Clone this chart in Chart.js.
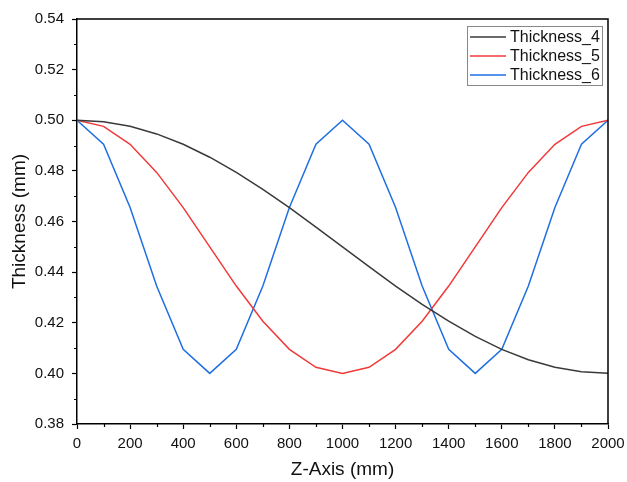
<!DOCTYPE html>
<html><head><meta charset="utf-8">
<script src="https://cdn.jsdelivr.net/npm/chart.js@4"></script>
<style>html,body{margin:0;padding:0;background:#fff}#wrap{width:627px;height:482px}</style>
</head><body><div id="wrap"><canvas id="c" width="627" height="482"></canvas></div>
<script>
const zAxis = [0,100,200,300,400,500,600,700,800,900,1000,1100,1200,1300,1400,1500,1600,1700,1800,1900,2000];
const thickness4 = [0.5,0.4994,0.4976,0.4946,0.4905,0.4854,0.4794,0.4727,0.4655,0.4578,0.45,0.4422,0.4345,0.4273,0.4206,0.4146,0.4095,0.4054,0.4024,0.4006,0.4];
const thickness5 = [0.5,0.4976,0.4905,0.4794,0.4655,0.45,0.4345,0.4206,0.4095,0.4024,0.4,0.4024,0.4095,0.4206,0.4345,0.45,0.4655,0.4794,0.4905,0.4976,0.5];
const thickness6 = [0.5,0.4905,0.4655,0.4345,0.4095,0.4,0.4095,0.4345,0.4655,0.4905,0.5,0.4905,0.4655,0.4345,0.4095,0.4,0.4095,0.4345,0.4655,0.4905,0.5];
const seriesNames = ['Thickness_4','Thickness_5','Thickness_6'];
const colors = ['#3a3a3a','#f03a3a','#1f6fe3'];
const xMinorTicks = [100,300,500,700,900,1100,1300,1500,1700,1900];
const yMinorTicks = [0.39,0.41,0.43,0.45,0.47,0.49,0.51,0.53];

const font = 'Liberation Sans, Arial, sans-serif';
const mk = (arr) => arr.map((v,i)=>({x:zAxis[i], y:v}));

const framePlugin = {
  id:'frame',
  afterDraw(chart){
    const {ctx, chartArea:a, scales:{x,y}} = chart;
    ctx.save();
    ctx.strokeStyle='#000'; ctx.lineWidth=1.5;
    ctx.beginPath();
    ctx.moveTo(a.left,a.top); ctx.lineTo(a.right,a.top); ctx.lineTo(a.right,a.bottom);
    ctx.stroke();
    ctx.lineWidth=1.2;
    ctx.beginPath();
    xMinorTicks.forEach(v=>{const px=Math.round(x.getPixelForValue(v))+0.5; ctx.moveTo(px,a.bottom); ctx.lineTo(px,a.bottom+3);});
    yMinorTicks.forEach(v=>{const py=Math.round(y.getPixelForValue(v))+0.5; ctx.moveTo(a.left,py); ctx.lineTo(a.left-3,py);});
    ctx.stroke();
    // legend
    const bx=467, by=26, bw=135, bh=59;
    ctx.fillStyle='#fff'; ctx.fillRect(bx,by,bw,bh);
    ctx.strokeStyle='#888'; ctx.lineWidth=1;
    ctx.strokeRect(bx+0.5,by+0.5,bw,bh);
    ctx.font='16px '+font; ctx.textBaseline='middle'; ctx.fillStyle='#111';
    chart.data.datasets.forEach((ds,i)=>{
      const cy=by+11+i*19;
      ctx.strokeStyle=ds.borderColor; ctx.lineWidth=1.5;
      ctx.beginPath(); ctx.moveTo(bx+3,cy); ctx.lineTo(bx+39,cy); ctx.stroke();
      ctx.fillText(ds.label,bx+43,cy+1);
    });
    ctx.restore();
  }
};

new Chart(document.getElementById('c'),{
  type:'line',
  data:{datasets:[
    {label:seriesNames[0],data:mk(thickness4),borderColor:colors[0],backgroundColor:colors[0]},
    {label:seriesNames[1],data:mk(thickness5),borderColor:colors[1],backgroundColor:colors[1]},
    {label:seriesNames[2],data:mk(thickness6),borderColor:colors[2],backgroundColor:colors[2]}
  ]},
  options:{
    responsive:false,animation:false,
    elements:{point:{radius:0},line:{borderWidth:1.5,tension:0}},
    layout:{padding:{top:19,right:0,left:0,bottom:0}},
    plugins:{legend:{display:false},tooltip:{enabled:false}},
    scales:{
      x:{type:'linear',min:0,max:2000,
        afterFit(s){s.height=58; s.paddingRight=19; s.paddingLeft=0;},
        ticks:{stepSize:200,color:'#111',font:{family:font,size:15},padding:6,maxRotation:0,callback:v=>String(v)},
        grid:{drawOnChartArea:false,drawTicks:true,tickLength:5,color:'#000',tickWidth:1.2},
        border:{display:true,color:'#000',width:1.5},
        title:{display:true,text:'Z-Axis (mm)',color:'#111',font:{family:font,size:19},padding:{top:4,bottom:1}}
      },
      y:{type:'linear',min:0.38,max:0.54,
        afterFit(s){s.width=77;},
        ticks:{stepSize:0.02,color:'#111',font:{family:font,size:15},padding:8,callback:v=>v.toFixed(2)},
        grid:{drawOnChartArea:false,drawTicks:true,tickLength:5,color:'#000',tickWidth:1.2},
        border:{display:true,color:'#000',width:1.5},
        title:{display:true,text:'Thickness (mm)',color:'#111',font:{family:font,size:19},padding:{top:8,bottom:4}}
      }
    }
  },
  plugins:[framePlugin]
});
</script></body></html>
